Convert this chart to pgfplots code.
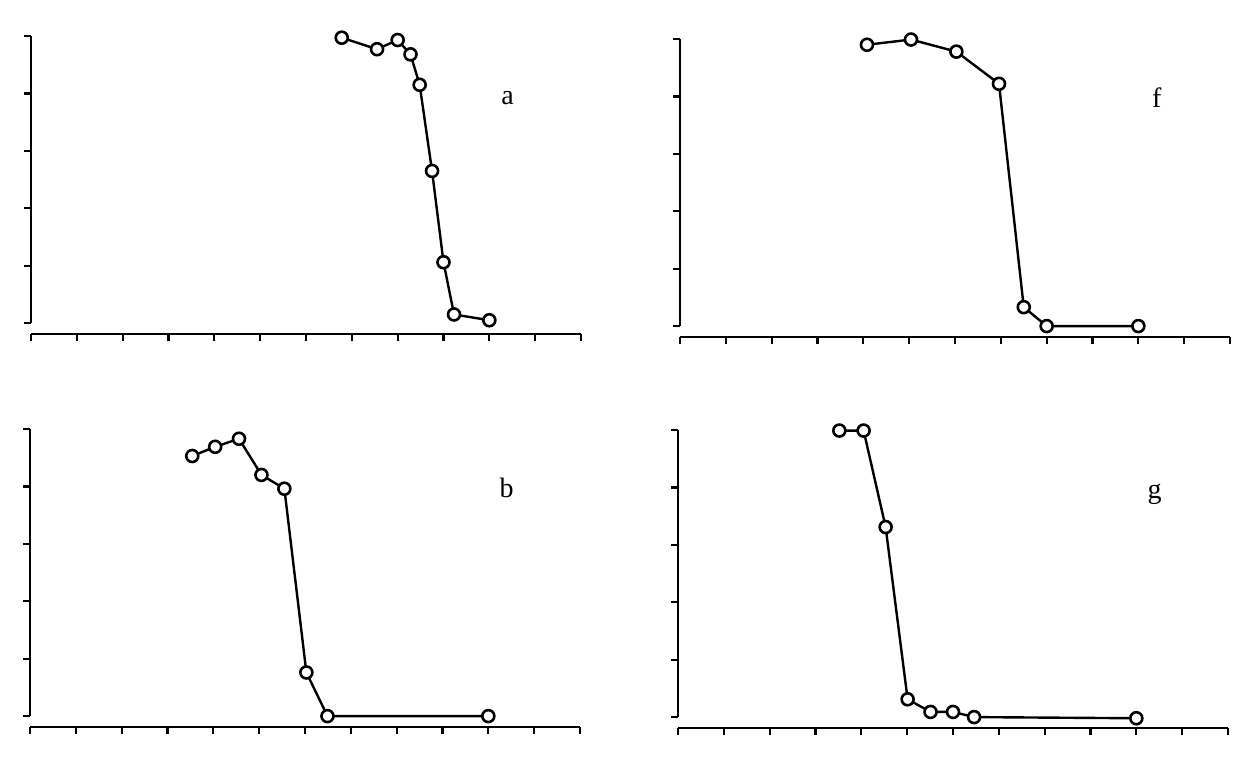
\documentclass[border=0pt]{standalone}
\usepackage{fontspec}
\setmainfont{Liberation Serif}
\usepackage{pgfplots}
\pgfplotsset{compat=1.18}
\pgfplotsset{
  panel/.style={
    scale only axis, width=275pt, height=149pt,
    xmin=0, xmax=12, ymin=-0.19, ymax=5,
    xtick={0,...,12}, ytick={0,...,5},
    xticklabels={}, yticklabels={},
    axis x line=bottom, axis y line=left,
    axis line style={-, line width=1.4pt},
    y axis line style={draw=none},
    tick align=outside, major tick length=3.5pt,
    every tick/.style={black, line width=1.1pt},
    clip=false,
  },
  curve/.style={black, line width=1.2pt, mark=*,
    mark options={fill=white, draw=black, line width=1.3pt, scale=1.5}},
}
\newcommand\lab[1]{\node[anchor=base, font=\fontsize{14}{16}\selectfont] at (axis cs:10.4,3.8) {#1};}
\begin{document}
\begin{tikzpicture}[x=1pt,y=1pt]
\path[use as bounding box] (0,0) rectangle (621,378);
% panel a
\begin{axis}[panel, at={(15.5pt,211pt)}, anchor=south west]
\draw[line width=1.4pt] (axis cs:0,0) -- (axis cs:0,5);
\addplot[curve] coordinates {(6.78,4.97) (7.55,4.77) (8.0,4.93) (8.28,4.68) (8.48,4.15) (8.75,2.65) (9.0,1.06) (9.23,0.15) (10,0.05)};
\lab{a}
\end{axis}
% panel f
\begin{axis}[panel, at={(340pt,209.5pt)}, anchor=south west]
\draw[line width=1.4pt] (axis cs:0,0) -- (axis cs:0,5);
\addplot[curve] coordinates {(4.08,4.90) (5.04,4.99) (6.03,4.78) (6.96,4.22) (7.5,0.33) (8.0,0.0) (10.0,0.0)};
\lab{f}
\end{axis}
% panel b
\begin{axis}[panel, at={(15pt,14.5pt)}, anchor=south west]
\draw[line width=1.4pt] (axis cs:0,0) -- (axis cs:0,5);
\addplot[curve] coordinates {(3.54,4.53) (4.04,4.69) (4.56,4.83) (5.05,4.20) (5.55,3.96) (6.03,0.76) (6.49,0.0) (10.0,0.0)};
\lab{b}
\end{axis}
% panel g
\begin{axis}[panel, at={(339pt,14pt)}, anchor=south west]
\draw[line width=1.4pt] (axis cs:0,0) -- (axis cs:0,5);
\addplot[curve] coordinates {(3.52,4.99) (4.05,4.99) (4.53,3.31) (5.01,0.31) (5.51,0.09) (6.0,0.09) (6.46,0.0) (10.0,-0.02)};
\lab{g}
\end{axis}
\end{tikzpicture}
\end{document}
